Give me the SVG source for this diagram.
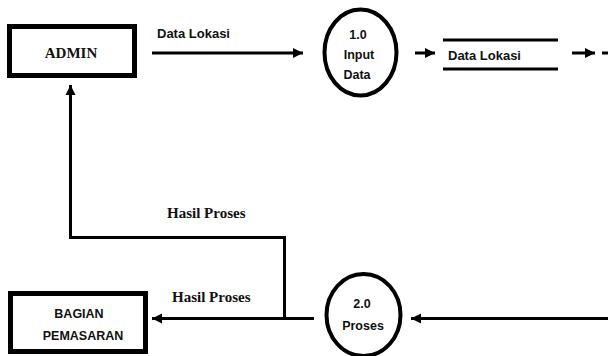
<svg xmlns="http://www.w3.org/2000/svg" width="608" height="356" viewBox="0 0 608 356">
<style>
.box{fill:#fff;stroke:#000;stroke-width:5}
.proc{fill:#fff;stroke:#000;stroke-width:4}
.ln{fill:none;stroke:#000;stroke-width:3}
.serif{font-family:"Liberation Serif","Times New Roman",serif;font-weight:bold;font-size:15px;fill:#111}
.sans{font-family:"Liberation Sans",Arial,sans-serif;font-weight:bold;font-size:12.5px;fill:#111}
.lbl{font-size:13px}
</style>
<defs>
<marker id="ah" markerUnits="userSpaceOnUse" markerWidth="12" markerHeight="12" viewBox="0 0 12 12" refX="10" refY="6" orient="auto">
<path d="M0,1 L10,6 L0,11 Z" fill="#000"/>
</marker>
</defs>
<rect width="608" height="356" fill="#fff"/>
<g id="connectors">
<line class="ln" x1="152" y1="53" x2="303" y2="53" marker-end="url(#ah)"/>
<line class="ln" x1="415" y1="53" x2="435" y2="53" marker-end="url(#ah)"/>
<line class="ln" x1="572" y1="53" x2="595" y2="53" marker-end="url(#ah)"/>
<line class="ln" x1="602" y1="53" x2="608" y2="53"/>
<polyline class="ln" points="314,318.5 284.5,318.5 284.5,237.5 70.5,237.5 70.5,85" marker-end="url(#ah)"/>
<line class="ln" x1="284" y1="318.5" x2="152" y2="318.5" marker-end="url(#ah)"/>
<line class="ln" x1="608" y1="318.5" x2="411" y2="318.5" marker-end="url(#ah)"/>
<text class="sans lbl" x="157" y="38">Data Lokasi</text>
<text class="serif" x="167" y="218">Hasil Proses</text>
<text class="serif" x="172" y="302">Hasil Proses</text>
</g>
<g id="admin">
<rect class="box" x="9.5" y="26.5" width="125" height="49"/>
<text class="serif" x="71" y="58" text-anchor="middle">ADMIN</text>
</g>
<g id="p1">
<ellipse class="proc" cx="360.5" cy="52.5" rx="36" ry="43"/>
<text class="sans" x="358" y="39" text-anchor="middle">1.0</text>
<text class="sans" x="359" y="59" text-anchor="middle">Input</text>
<text class="sans" x="357" y="79" text-anchor="middle">Data</text>
</g>
<g id="store">
<line class="ln" x1="443" y1="40" x2="558" y2="40"/>
<line class="ln" x1="443" y1="69" x2="558" y2="69"/>
<text class="sans lbl" x="448" y="60">Data Lokasi</text>
</g>
<g id="p2">
<ellipse class="proc" cx="363.5" cy="315" rx="37" ry="41"/>
<text class="sans" x="362" y="308" text-anchor="middle">2.0</text>
<text class="sans" x="363" y="330" text-anchor="middle">Proses</text>
</g>
<g id="pemasaran">
<rect class="box" x="10.5" y="293.5" width="135" height="58"/>
<text class="sans" x="79" y="318" text-anchor="middle">BAGIAN</text>
<text class="sans" x="83" y="340" text-anchor="middle">PEMASARAN</text>
</g>
</svg>
